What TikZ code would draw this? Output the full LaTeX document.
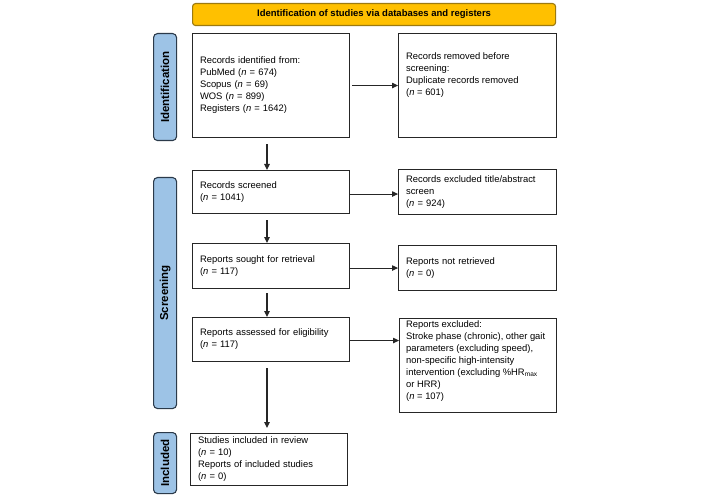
\documentclass[tikz,border=0pt]{standalone}
\usepackage{fontspec}
\setmainfont{Liberation Sans}
\usetikzlibrary{arrows.meta,calc}
\definecolor{banfill}{HTML}{FFC000}
\definecolor{bandraw}{HTML}{9C7A10}
\definecolor{sidefill}{HTML}{9DC3E6}
\definecolor{sidedraw}{HTML}{2B3A4A}
\definecolor{boxdraw}{HTML}{262626}
\tikzset{
  box/.style={draw=boxdraw, line width=1.1pt, anchor=north west, inner xsep=7.5pt, inner ysep=0pt, align=left,
    font=\fontsize{9.4}{12}\selectfont},
  txt/.style={anchor=north west, inner sep=0pt, align=left, font=\fontsize{9.4}{12}\selectfont},
  side/.style={draw=sidedraw, fill=sidefill, line width=1.1pt, rounded corners=4pt, anchor=north west, inner sep=0pt},
  sidetxt/.style={rotate=90, font=\bfseries\fontsize{11.5}{13}\selectfont},
  arr/.style={draw=boxdraw, line width=1.1pt, -{Triangle[length=6pt,width=5.5pt]}}
}
\begin{document}
\begin{tikzpicture}[x=1pt,y=-1pt]
\useasboundingbox (0,0) rectangle (706,497);
% banner
\node[draw=bandraw, fill=banfill, line width=1.1pt, rounded corners=3pt, anchor=north west,
  minimum width=363pt, minimum height=22pt, inner sep=0pt, font=\bfseries\fontsize{9.5}{11}\selectfont]
  (ban) at (192,3) {Identification of studies via databases and registers};
% side labels
\node[side, minimum width=23pt, minimum height=107pt] (s1) at (153,33) {};
\node[sidetxt] at (s1.center) {Identification};
\node[side, minimum width=23pt, minimum height=231pt] (s2) at (153,177) {};
\node[sidetxt] at (s2.center) {Screening};
\node[side, minimum width=23pt, minimum height=61pt] (s3) at (153,432) {};
\node[sidetxt] at (s3.center) {Included};
% left column
\node[box, minimum width=157pt, minimum height=104pt, text width=142pt] (b1) at (192,33)
  {Records identified from:\\PubMed (\textit{n} = 674)\\Scopus (\textit{n} = 69)\\WOS (\textit{n} = 899)\\Registers (\textit{n} = 1642)};
\node[box, minimum width=157pt, minimum height=43pt, text width=142pt] (b3) at (192,170)
  {Records screened\\(\textit{n} = 1041)};
\node[box, minimum width=157pt, minimum height=45pt, text width=142pt] (b5) at (192,243)
  {Reports sought for retrieval\\(\textit{n} = 117)};
\node[box, minimum width=157pt, minimum height=44pt, text width=142pt] (b7) at (192,317)
  {Reports assessed for eligibility\\(\textit{n} = 117)};
\node[box, minimum width=157pt, minimum height=52pt, text width=142pt] (b9) at (190,433)
  {Studies included in review\\(\textit{n} = 10)\\Reports of included studies\\(\textit{n} = 0)};
% right column
\node[box, minimum width=158pt, minimum height=104pt] (b2) at (398,33) {};
\node[txt] at ($(b2.north west)+(8,19)$)
  {Records removed before\\screening:\\Duplicate records removed\\(\textit{n} = 601)};
\node[box, minimum width=158pt, minimum height=45pt, text width=143pt] (b4) at (398,169)
  {Records excluded title/abstract\\screen\\(\textit{n} = 924)};
\node[box, minimum width=158pt, minimum height=45pt, text width=143pt] (b6) at (398,245)
  {Reports not retrieved\\(\textit{n} = 0)};
\node[box, minimum width=157pt, minimum height=94pt] (b8) at (399,318) {};
\node[txt] at ($(b8.north west)+(7,2)$)
  {Reports excluded:\\Stroke phase (chronic), other gait\\parameters (excluding speed),\\non-specific high-intensity\\intervention (excluding \%HR\textsubscript{max}\\or HRR)\\(\textit{n} = 107)};
% arrows
\coordinate (ax) at (267,0);
\coordinate (a1) at ([xshift=2pt]b1.east);
\coordinate (a3) at ([yshift=-2pt]b3.east);
\coordinate (a5) at ([yshift=-2pt]b5.east);
\coordinate (a7) at ([yshift=-1pt]b7.east);
\draw[arr] ([yshift=-6pt]b1.south -| ax) -- (b3.north -| ax);
\draw[arr] ([yshift=-6pt]b3.south -| ax) -- (b5.north -| ax);
\draw[arr] ([yshift=-4pt]b5.south -| ax) -- (b7.north -| ax);
\draw[arr] ([yshift=-6pt]b7.south -| ax) -- ([yshift=5pt]b9.north -| ax);
\draw[arr] (a1) -- (b2.west |- a1);
\draw[arr] (a3) -- (b4.west |- a3);
\draw[arr] (a5) -- (b6.west |- a5);
\draw[arr] (a7) -- (b8.west |- a7);
\end{tikzpicture}
\end{document}
